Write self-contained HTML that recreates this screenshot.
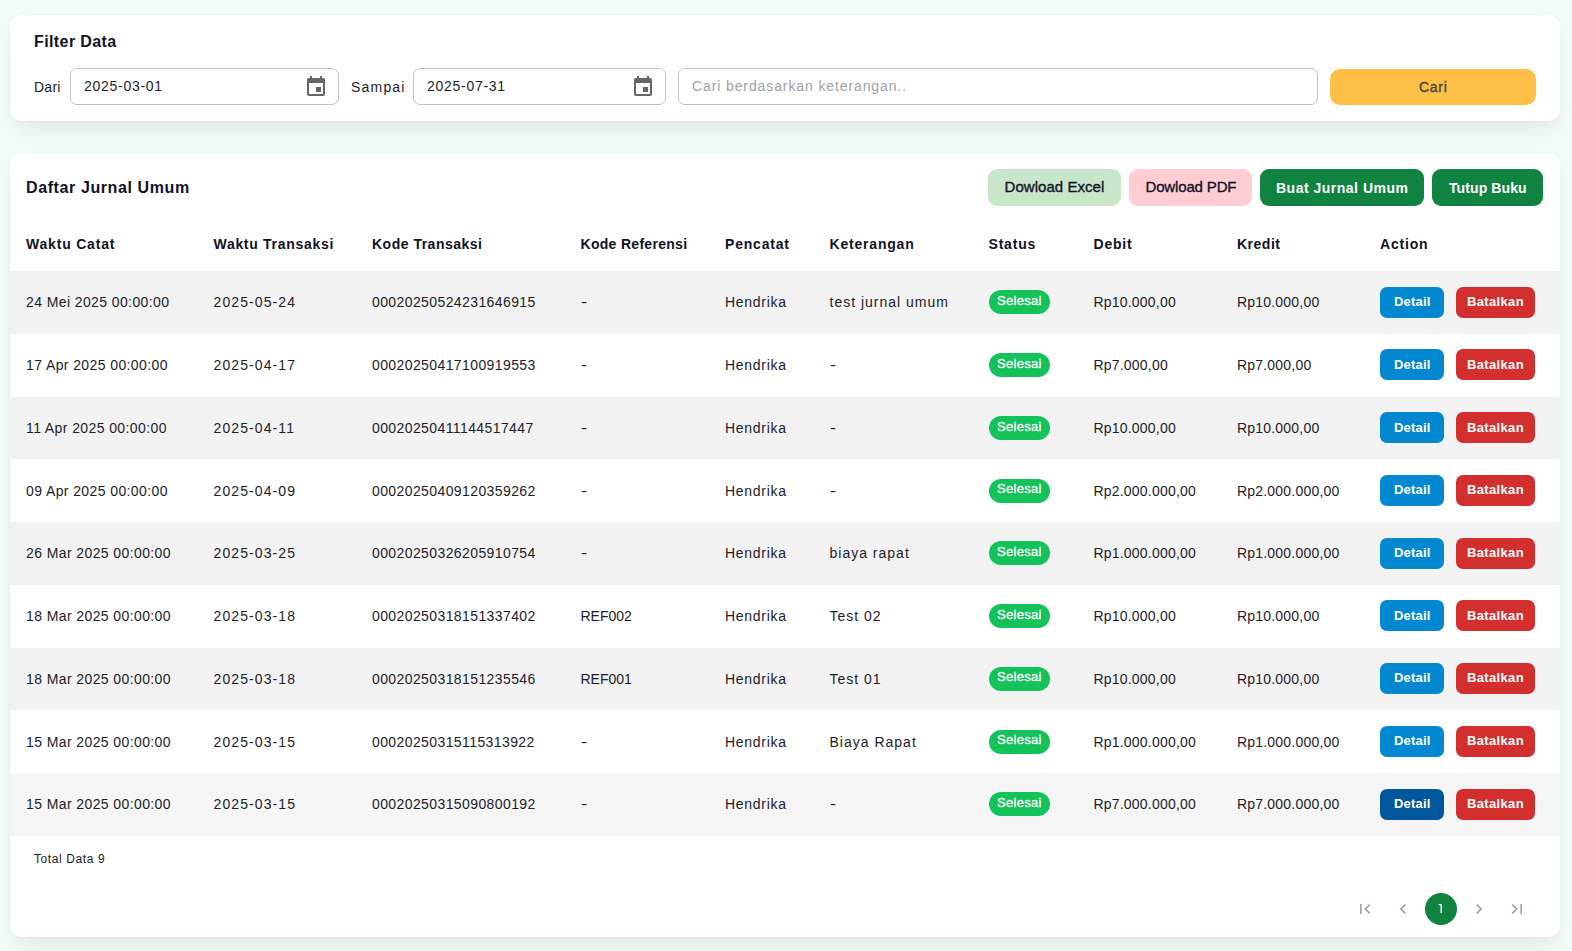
<!DOCTYPE html>
<html><head><meta charset="utf-8"><title>Jurnal Umum</title>
<style>
*{box-sizing:border-box;margin:0;padding:0}
html,body{width:1572px;height:951px;overflow:hidden}
body{font-family:"Liberation Sans", sans-serif;background:#f2fcf7;position:relative}
.card{position:absolute;left:10px;width:1550px;background:#fff;border-radius:12px;box-shadow:0 10px 24px -6px rgba(0,0,0,0.10),0 0 5px rgba(0,0,0,0.025)}
.t{position:absolute;white-space:nowrap}
.inp{position:absolute;border:1px solid #c2c2c2;border-radius:7px;background:#fff}
.btn{position:absolute;display:flex;align-items:center;justify-content:center;white-space:nowrap}
.row{position:absolute;left:10px;width:1550px}
.pg{position:absolute;top:893px;width:32px;height:32px;display:flex;align-items:center;justify-content:center}
</style></head><body>

<div class="card" style="top:15px;height:106px"></div>
<div class="t" style="left:34px;top:32.46px;font-size:16px;font-weight:700;color:#111326;letter-spacing:0.4px;line-height:20px;">Filter Data</div>
<div class="t" style="left:34px;top:77.15px;font-size:14px;font-weight:400;color:#1c1c2b;letter-spacing:0.25px;line-height:20px;">Dari</div>
<div class="inp" style="left:70px;top:68px;width:269px;height:37px"></div>
<div class="t" style="left:84px;top:75.65px;font-size:14px;font-weight:400;color:#1c1c2b;letter-spacing:0.72px;line-height:20px;">2025-03-01</div>
<div style="position:absolute;left:304px;top:75px;width:24px;height:24px"><svg width="24" height="24" viewBox="0 0 24 24"><path fill="#666" d="M17 12h-5v5h5v-5zM16 1v2H8V1H6v2H5c-1.11 0-1.99.9-1.99 2L3 19c0 1.1.89 2 2 2h14c1.1 0 2-.9 2-2V5c0-1.1-.9-2-2-2h-1V1h-2zm3 18H5V8h14v11z"/></svg></div>
<div class="t" style="left:351px;top:77.15px;font-size:14px;font-weight:400;color:#1c1c2b;letter-spacing:1.2px;line-height:20px;">Sampai</div>
<div class="inp" style="left:413px;top:68px;width:253px;height:37px"></div>
<div class="t" style="left:427px;top:75.65px;font-size:14px;font-weight:400;color:#1c1c2b;letter-spacing:0.72px;line-height:20px;">2025-07-31</div>
<div style="position:absolute;left:631px;top:75px;width:24px;height:24px"><svg width="24" height="24" viewBox="0 0 24 24"><path fill="#666" d="M17 12h-5v5h5v-5zM16 1v2H8V1H6v2H5c-1.11 0-1.99.9-1.99 2L3 19c0 1.1.89 2 2 2h14c1.1 0 2-.9 2-2V5c0-1.1-.9-2-2-2h-1V1h-2zm3 18H5V8h14v11z"/></svg></div>
<div class="inp" style="left:678px;top:68px;width:640px;height:37px"></div>
<div class="t" style="left:692px;top:76.15px;font-size:14px;font-weight:400;color:#a0a1a9;letter-spacing:0.89px;line-height:20px;">Cari berdasarkan keterangan..</div>
<div class="btn" style="left:1330px;top:69px;width:206px;height:36px;background:#ffbf47;border-radius:10px"></div>
<div class="t" style="left:1419px;top:77.15px;font-size:14px;font-weight:400;color:#3d463a;letter-spacing:0.7px;line-height:20px;-webkit-text-stroke:0.35px #3d463a">Cari</div>
<div class="card" style="top:153px;height:784px"></div>
<div class="t" style="left:26px;top:178.16px;font-size:16px;font-weight:700;color:#111326;letter-spacing:0.6px;line-height:20px;">Daftar Jurnal Umum</div>
<div class="btn" style="left:988px;top:169px;width:133px;height:37px;background:#c8e6c9;border-radius:9px"></div><div class="t" style="left:1004.5px;top:177.30px;font-size:15px;font-weight:400;color:#111326;letter-spacing:0.05px;line-height:20px;-webkit-text-stroke:0.35px #111326">Dowload Excel</div>
<div class="btn" style="left:1129px;top:169px;width:123px;height:37px;background:#ffcdd2;border-radius:9px"></div><div class="t" style="left:1145.5px;top:177.30px;font-size:15px;font-weight:400;color:#111326;letter-spacing:-0.15px;line-height:20px;-webkit-text-stroke:0.35px #111326">Dowload PDF</div>
<div class="btn" style="left:1260px;top:169px;width:164px;height:37px;background:#0f833f;border-radius:9px"></div><div class="t" style="left:1276px;top:177.65px;font-size:14px;font-weight:700;color:#ffffff;letter-spacing:0.5px;line-height:20px;">Buat Jurnal Umum</div>
<div class="btn" style="left:1432px;top:169px;width:111px;height:37px;background:#0f833f;border-radius:9px"></div><div class="t" style="left:1449px;top:177.65px;font-size:14px;font-weight:700;color:#ffffff;letter-spacing:0.1px;line-height:20px;">Tutup Buku</div>
<div class="t" style="left:26px;top:234.15px;font-size:14px;font-weight:700;color:#111326;letter-spacing:0.8px;line-height:20px;">Waktu Catat</div>
<div class="t" style="left:213.5px;top:234.15px;font-size:14px;font-weight:700;color:#111326;letter-spacing:0.7px;line-height:20px;">Waktu Transaksi</div>
<div class="t" style="left:372px;top:234.15px;font-size:14px;font-weight:700;color:#111326;letter-spacing:0.5px;line-height:20px;">Kode Transaksi</div>
<div class="t" style="left:580.5px;top:234.15px;font-size:14px;font-weight:700;color:#111326;letter-spacing:0.3px;line-height:20px;">Kode Referensi</div>
<div class="t" style="left:725px;top:234.15px;font-size:14px;font-weight:700;color:#111326;letter-spacing:0.8px;line-height:20px;">Pencatat</div>
<div class="t" style="left:829.5px;top:234.15px;font-size:14px;font-weight:700;color:#111326;letter-spacing:0.8px;line-height:20px;">Keterangan</div>
<div class="t" style="left:988.5px;top:234.15px;font-size:14px;font-weight:700;color:#111326;letter-spacing:0.8px;line-height:20px;">Status</div>
<div class="t" style="left:1093.5px;top:234.15px;font-size:14px;font-weight:700;color:#111326;letter-spacing:0.8px;line-height:20px;">Debit</div>
<div class="t" style="left:1237px;top:234.15px;font-size:14px;font-weight:700;color:#111326;letter-spacing:0.5px;line-height:20px;">Kredit</div>
<div class="t" style="left:1380px;top:234.15px;font-size:14px;font-weight:700;color:#111326;letter-spacing:0.8px;line-height:20px;">Action</div>
<div class="row" style="top:271.00px;height:62.75px;background:#f2f2f2"></div>
<div class="t" style="left:26px;top:292.00px;font-size:14px;font-weight:400;color:#1c1c2b;letter-spacing:0.4px;line-height:20px;">24 Mei 2025 00:00:00</div>
<div class="t" style="left:213.5px;top:292.00px;font-size:14px;font-weight:400;color:#1c1c2b;letter-spacing:1.1px;line-height:20px;">2025-05-24</div>
<div class="t" style="left:372px;top:292.00px;font-size:14px;font-weight:400;color:#1c1c2b;letter-spacing:0.4px;line-height:20px;">00020250524231646915</div>
<div class="t" style="left:580.5px;top:292.00px;font-size:14px;font-weight:400;color:#1c1c2b;letter-spacing:0.0px;line-height:20px;"><span style="display:inline-block;transform:scaleX(1.3);transform-origin:0 0">-</span></div>
<div class="t" style="left:725px;top:292.00px;font-size:14px;font-weight:400;color:#1c1c2b;letter-spacing:0.7px;line-height:20px;">Hendrika</div>
<div class="t" style="left:829.5px;top:292.00px;font-size:14px;font-weight:400;color:#1c1c2b;letter-spacing:1.0px;line-height:20px;">test jurnal umum</div>
<div class="btn" style="left:989px;top:290.40px;width:61px;height:24px;background:#14c25a;border-radius:12px"></div>
<div class="t" style="left:997px;top:291.00px;font-size:13px;font-weight:400;color:#ffffff;letter-spacing:0.3px;line-height:20px;-webkit-text-stroke:0.3px #fff">Selesai</div>
<div class="t" style="left:1093.5px;top:292.00px;font-size:14px;font-weight:400;color:#1c1c2b;letter-spacing:0.2px;line-height:20px;">Rp10.000,00</div>
<div class="t" style="left:1237px;top:292.00px;font-size:14px;font-weight:400;color:#1c1c2b;letter-spacing:0.2px;line-height:20px;">Rp10.000,00</div>
<div class="btn" style="left:1380px;top:286.70px;width:64px;height:31px;background:#0288d1;border-radius:7px"></div>
<div class="t" style="left:1394px;top:292.00px;font-size:13px;font-weight:700;color:#ffffff;letter-spacing:0.2px;line-height:20px;">Detail</div>
<div class="btn" style="left:1456px;top:286.70px;width:79px;height:31px;background:#d32f2f;border-radius:7px"></div>
<div class="t" style="left:1467px;top:292.00px;font-size:13px;font-weight:700;color:#ffffff;letter-spacing:0.35px;line-height:20px;">Batalkan</div>
<div class="row" style="top:333.75px;height:62.75px;background:#ffffff"></div>
<div class="t" style="left:26px;top:355.00px;font-size:14px;font-weight:400;color:#1c1c2b;letter-spacing:0.4px;line-height:20px;">17 Apr 2025 00:00:00</div>
<div class="t" style="left:213.5px;top:355.00px;font-size:14px;font-weight:400;color:#1c1c2b;letter-spacing:1.1px;line-height:20px;">2025-04-17</div>
<div class="t" style="left:372px;top:355.00px;font-size:14px;font-weight:400;color:#1c1c2b;letter-spacing:0.4px;line-height:20px;">00020250417100919553</div>
<div class="t" style="left:580.5px;top:355.00px;font-size:14px;font-weight:400;color:#1c1c2b;letter-spacing:0.0px;line-height:20px;"><span style="display:inline-block;transform:scaleX(1.3);transform-origin:0 0">-</span></div>
<div class="t" style="left:725px;top:355.00px;font-size:14px;font-weight:400;color:#1c1c2b;letter-spacing:0.7px;line-height:20px;">Hendrika</div>
<div class="t" style="left:829.5px;top:355.00px;font-size:14px;font-weight:400;color:#1c1c2b;letter-spacing:1.0px;line-height:20px;"><span style="display:inline-block;transform:scaleX(1.3);transform-origin:0 0">-</span></div>
<div class="btn" style="left:989px;top:353.15px;width:61px;height:24px;background:#14c25a;border-radius:12px"></div>
<div class="t" style="left:997px;top:354.00px;font-size:13px;font-weight:400;color:#ffffff;letter-spacing:0.3px;line-height:20px;-webkit-text-stroke:0.3px #fff">Selesai</div>
<div class="t" style="left:1093.5px;top:355.00px;font-size:14px;font-weight:400;color:#1c1c2b;letter-spacing:0.2px;line-height:20px;">Rp7.000,00</div>
<div class="t" style="left:1237px;top:355.00px;font-size:14px;font-weight:400;color:#1c1c2b;letter-spacing:0.2px;line-height:20px;">Rp7.000,00</div>
<div class="btn" style="left:1380px;top:349.45px;width:64px;height:31px;background:#0288d1;border-radius:7px"></div>
<div class="t" style="left:1394px;top:355.00px;font-size:13px;font-weight:700;color:#ffffff;letter-spacing:0.2px;line-height:20px;">Detail</div>
<div class="btn" style="left:1456px;top:349.45px;width:79px;height:31px;background:#d32f2f;border-radius:7px"></div>
<div class="t" style="left:1467px;top:355.00px;font-size:13px;font-weight:700;color:#ffffff;letter-spacing:0.35px;line-height:20px;">Batalkan</div>
<div class="row" style="top:396.50px;height:62.75px;background:#f2f2f2"></div>
<div class="t" style="left:26px;top:418.00px;font-size:14px;font-weight:400;color:#1c1c2b;letter-spacing:0.4px;line-height:20px;">11 Apr 2025 00:00:00</div>
<div class="t" style="left:213.5px;top:418.00px;font-size:14px;font-weight:400;color:#1c1c2b;letter-spacing:1.1px;line-height:20px;">2025-04-11</div>
<div class="t" style="left:372px;top:418.00px;font-size:14px;font-weight:400;color:#1c1c2b;letter-spacing:0.4px;line-height:20px;">00020250411144517447</div>
<div class="t" style="left:580.5px;top:418.00px;font-size:14px;font-weight:400;color:#1c1c2b;letter-spacing:0.0px;line-height:20px;"><span style="display:inline-block;transform:scaleX(1.3);transform-origin:0 0">-</span></div>
<div class="t" style="left:725px;top:418.00px;font-size:14px;font-weight:400;color:#1c1c2b;letter-spacing:0.7px;line-height:20px;">Hendrika</div>
<div class="t" style="left:829.5px;top:418.00px;font-size:14px;font-weight:400;color:#1c1c2b;letter-spacing:1.0px;line-height:20px;"><span style="display:inline-block;transform:scaleX(1.3);transform-origin:0 0">-</span></div>
<div class="btn" style="left:989px;top:415.90px;width:61px;height:24px;background:#14c25a;border-radius:12px"></div>
<div class="t" style="left:997px;top:417.00px;font-size:13px;font-weight:400;color:#ffffff;letter-spacing:0.3px;line-height:20px;-webkit-text-stroke:0.3px #fff">Selesai</div>
<div class="t" style="left:1093.5px;top:418.00px;font-size:14px;font-weight:400;color:#1c1c2b;letter-spacing:0.2px;line-height:20px;">Rp10.000,00</div>
<div class="t" style="left:1237px;top:418.00px;font-size:14px;font-weight:400;color:#1c1c2b;letter-spacing:0.2px;line-height:20px;">Rp10.000,00</div>
<div class="btn" style="left:1380px;top:412.20px;width:64px;height:31px;background:#0288d1;border-radius:7px"></div>
<div class="t" style="left:1394px;top:418.00px;font-size:13px;font-weight:700;color:#ffffff;letter-spacing:0.2px;line-height:20px;">Detail</div>
<div class="btn" style="left:1456px;top:412.20px;width:79px;height:31px;background:#d32f2f;border-radius:7px"></div>
<div class="t" style="left:1467px;top:418.00px;font-size:13px;font-weight:700;color:#ffffff;letter-spacing:0.35px;line-height:20px;">Batalkan</div>
<div class="row" style="top:459.25px;height:62.75px;background:#ffffff"></div>
<div class="t" style="left:26px;top:481.00px;font-size:14px;font-weight:400;color:#1c1c2b;letter-spacing:0.4px;line-height:20px;">09 Apr 2025 00:00:00</div>
<div class="t" style="left:213.5px;top:481.00px;font-size:14px;font-weight:400;color:#1c1c2b;letter-spacing:1.1px;line-height:20px;">2025-04-09</div>
<div class="t" style="left:372px;top:481.00px;font-size:14px;font-weight:400;color:#1c1c2b;letter-spacing:0.4px;line-height:20px;">00020250409120359262</div>
<div class="t" style="left:580.5px;top:481.00px;font-size:14px;font-weight:400;color:#1c1c2b;letter-spacing:0.0px;line-height:20px;"><span style="display:inline-block;transform:scaleX(1.3);transform-origin:0 0">-</span></div>
<div class="t" style="left:725px;top:481.00px;font-size:14px;font-weight:400;color:#1c1c2b;letter-spacing:0.7px;line-height:20px;">Hendrika</div>
<div class="t" style="left:829.5px;top:481.00px;font-size:14px;font-weight:400;color:#1c1c2b;letter-spacing:1.0px;line-height:20px;"><span style="display:inline-block;transform:scaleX(1.3);transform-origin:0 0">-</span></div>
<div class="btn" style="left:989px;top:478.65px;width:61px;height:24px;background:#14c25a;border-radius:12px"></div>
<div class="t" style="left:997px;top:479.00px;font-size:13px;font-weight:400;color:#ffffff;letter-spacing:0.3px;line-height:20px;-webkit-text-stroke:0.3px #fff">Selesai</div>
<div class="t" style="left:1093.5px;top:481.00px;font-size:14px;font-weight:400;color:#1c1c2b;letter-spacing:0.2px;line-height:20px;">Rp2.000.000,00</div>
<div class="t" style="left:1237px;top:481.00px;font-size:14px;font-weight:400;color:#1c1c2b;letter-spacing:0.2px;line-height:20px;">Rp2.000.000,00</div>
<div class="btn" style="left:1380px;top:474.95px;width:64px;height:31px;background:#0288d1;border-radius:7px"></div>
<div class="t" style="left:1394px;top:480.00px;font-size:13px;font-weight:700;color:#ffffff;letter-spacing:0.2px;line-height:20px;">Detail</div>
<div class="btn" style="left:1456px;top:474.95px;width:79px;height:31px;background:#d32f2f;border-radius:7px"></div>
<div class="t" style="left:1467px;top:480.00px;font-size:13px;font-weight:700;color:#ffffff;letter-spacing:0.35px;line-height:20px;">Batalkan</div>
<div class="row" style="top:522.00px;height:62.75px;background:#f2f2f2"></div>
<div class="t" style="left:26px;top:543.00px;font-size:14px;font-weight:400;color:#1c1c2b;letter-spacing:0.4px;line-height:20px;">26 Mar 2025 00:00:00</div>
<div class="t" style="left:213.5px;top:543.00px;font-size:14px;font-weight:400;color:#1c1c2b;letter-spacing:1.1px;line-height:20px;">2025-03-25</div>
<div class="t" style="left:372px;top:543.00px;font-size:14px;font-weight:400;color:#1c1c2b;letter-spacing:0.4px;line-height:20px;">00020250326205910754</div>
<div class="t" style="left:580.5px;top:543.00px;font-size:14px;font-weight:400;color:#1c1c2b;letter-spacing:0.0px;line-height:20px;"><span style="display:inline-block;transform:scaleX(1.3);transform-origin:0 0">-</span></div>
<div class="t" style="left:725px;top:543.00px;font-size:14px;font-weight:400;color:#1c1c2b;letter-spacing:0.7px;line-height:20px;">Hendrika</div>
<div class="t" style="left:829.5px;top:543.00px;font-size:14px;font-weight:400;color:#1c1c2b;letter-spacing:1.0px;line-height:20px;">biaya rapat</div>
<div class="btn" style="left:989px;top:541.40px;width:61px;height:24px;background:#14c25a;border-radius:12px"></div>
<div class="t" style="left:997px;top:542.00px;font-size:13px;font-weight:400;color:#ffffff;letter-spacing:0.3px;line-height:20px;-webkit-text-stroke:0.3px #fff">Selesai</div>
<div class="t" style="left:1093.5px;top:543.00px;font-size:14px;font-weight:400;color:#1c1c2b;letter-spacing:0.2px;line-height:20px;">Rp1.000.000,00</div>
<div class="t" style="left:1237px;top:543.00px;font-size:14px;font-weight:400;color:#1c1c2b;letter-spacing:0.2px;line-height:20px;">Rp1.000.000,00</div>
<div class="btn" style="left:1380px;top:537.70px;width:64px;height:31px;background:#0288d1;border-radius:7px"></div>
<div class="t" style="left:1394px;top:543.00px;font-size:13px;font-weight:700;color:#ffffff;letter-spacing:0.2px;line-height:20px;">Detail</div>
<div class="btn" style="left:1456px;top:537.70px;width:79px;height:31px;background:#d32f2f;border-radius:7px"></div>
<div class="t" style="left:1467px;top:543.00px;font-size:13px;font-weight:700;color:#ffffff;letter-spacing:0.35px;line-height:20px;">Batalkan</div>
<div class="row" style="top:584.75px;height:62.75px;background:#ffffff"></div>
<div class="t" style="left:26px;top:606.00px;font-size:14px;font-weight:400;color:#1c1c2b;letter-spacing:0.4px;line-height:20px;">18 Mar 2025 00:00:00</div>
<div class="t" style="left:213.5px;top:606.00px;font-size:14px;font-weight:400;color:#1c1c2b;letter-spacing:1.1px;line-height:20px;">2025-03-18</div>
<div class="t" style="left:372px;top:606.00px;font-size:14px;font-weight:400;color:#1c1c2b;letter-spacing:0.4px;line-height:20px;">00020250318151337402</div>
<div class="t" style="left:580.5px;top:606.00px;font-size:14px;font-weight:400;color:#1c1c2b;letter-spacing:0.0px;line-height:20px;">REF002</div>
<div class="t" style="left:725px;top:606.00px;font-size:14px;font-weight:400;color:#1c1c2b;letter-spacing:0.7px;line-height:20px;">Hendrika</div>
<div class="t" style="left:829.5px;top:606.00px;font-size:14px;font-weight:400;color:#1c1c2b;letter-spacing:1.0px;line-height:20px;">Test 02</div>
<div class="btn" style="left:989px;top:604.15px;width:61px;height:24px;background:#14c25a;border-radius:12px"></div>
<div class="t" style="left:997px;top:605.00px;font-size:13px;font-weight:400;color:#ffffff;letter-spacing:0.3px;line-height:20px;-webkit-text-stroke:0.3px #fff">Selesai</div>
<div class="t" style="left:1093.5px;top:606.00px;font-size:14px;font-weight:400;color:#1c1c2b;letter-spacing:0.2px;line-height:20px;">Rp10.000,00</div>
<div class="t" style="left:1237px;top:606.00px;font-size:14px;font-weight:400;color:#1c1c2b;letter-spacing:0.2px;line-height:20px;">Rp10.000,00</div>
<div class="btn" style="left:1380px;top:600.45px;width:64px;height:31px;background:#0288d1;border-radius:7px"></div>
<div class="t" style="left:1394px;top:606.00px;font-size:13px;font-weight:700;color:#ffffff;letter-spacing:0.2px;line-height:20px;">Detail</div>
<div class="btn" style="left:1456px;top:600.45px;width:79px;height:31px;background:#d32f2f;border-radius:7px"></div>
<div class="t" style="left:1467px;top:606.00px;font-size:13px;font-weight:700;color:#ffffff;letter-spacing:0.35px;line-height:20px;">Batalkan</div>
<div class="row" style="top:647.50px;height:62.75px;background:#f2f2f2"></div>
<div class="t" style="left:26px;top:669.00px;font-size:14px;font-weight:400;color:#1c1c2b;letter-spacing:0.4px;line-height:20px;">18 Mar 2025 00:00:00</div>
<div class="t" style="left:213.5px;top:669.00px;font-size:14px;font-weight:400;color:#1c1c2b;letter-spacing:1.1px;line-height:20px;">2025-03-18</div>
<div class="t" style="left:372px;top:669.00px;font-size:14px;font-weight:400;color:#1c1c2b;letter-spacing:0.4px;line-height:20px;">00020250318151235546</div>
<div class="t" style="left:580.5px;top:669.00px;font-size:14px;font-weight:400;color:#1c1c2b;letter-spacing:0.0px;line-height:20px;">REF001</div>
<div class="t" style="left:725px;top:669.00px;font-size:14px;font-weight:400;color:#1c1c2b;letter-spacing:0.7px;line-height:20px;">Hendrika</div>
<div class="t" style="left:829.5px;top:669.00px;font-size:14px;font-weight:400;color:#1c1c2b;letter-spacing:1.0px;line-height:20px;">Test 01</div>
<div class="btn" style="left:989px;top:666.90px;width:61px;height:24px;background:#14c25a;border-radius:12px"></div>
<div class="t" style="left:997px;top:667.00px;font-size:13px;font-weight:400;color:#ffffff;letter-spacing:0.3px;line-height:20px;-webkit-text-stroke:0.3px #fff">Selesai</div>
<div class="t" style="left:1093.5px;top:669.00px;font-size:14px;font-weight:400;color:#1c1c2b;letter-spacing:0.2px;line-height:20px;">Rp10.000,00</div>
<div class="t" style="left:1237px;top:669.00px;font-size:14px;font-weight:400;color:#1c1c2b;letter-spacing:0.2px;line-height:20px;">Rp10.000,00</div>
<div class="btn" style="left:1380px;top:663.20px;width:64px;height:31px;background:#0288d1;border-radius:7px"></div>
<div class="t" style="left:1394px;top:668.00px;font-size:13px;font-weight:700;color:#ffffff;letter-spacing:0.2px;line-height:20px;">Detail</div>
<div class="btn" style="left:1456px;top:663.20px;width:79px;height:31px;background:#d32f2f;border-radius:7px"></div>
<div class="t" style="left:1467px;top:668.00px;font-size:13px;font-weight:700;color:#ffffff;letter-spacing:0.35px;line-height:20px;">Batalkan</div>
<div class="row" style="top:710.25px;height:62.75px;background:#ffffff"></div>
<div class="t" style="left:26px;top:732.00px;font-size:14px;font-weight:400;color:#1c1c2b;letter-spacing:0.4px;line-height:20px;">15 Mar 2025 00:00:00</div>
<div class="t" style="left:213.5px;top:732.00px;font-size:14px;font-weight:400;color:#1c1c2b;letter-spacing:1.1px;line-height:20px;">2025-03-15</div>
<div class="t" style="left:372px;top:732.00px;font-size:14px;font-weight:400;color:#1c1c2b;letter-spacing:0.4px;line-height:20px;">00020250315115313922</div>
<div class="t" style="left:580.5px;top:732.00px;font-size:14px;font-weight:400;color:#1c1c2b;letter-spacing:0.0px;line-height:20px;"><span style="display:inline-block;transform:scaleX(1.3);transform-origin:0 0">-</span></div>
<div class="t" style="left:725px;top:732.00px;font-size:14px;font-weight:400;color:#1c1c2b;letter-spacing:0.7px;line-height:20px;">Hendrika</div>
<div class="t" style="left:829.5px;top:732.00px;font-size:14px;font-weight:400;color:#1c1c2b;letter-spacing:1.0px;line-height:20px;">Biaya Rapat</div>
<div class="btn" style="left:989px;top:729.65px;width:61px;height:24px;background:#14c25a;border-radius:12px"></div>
<div class="t" style="left:997px;top:730.00px;font-size:13px;font-weight:400;color:#ffffff;letter-spacing:0.3px;line-height:20px;-webkit-text-stroke:0.3px #fff">Selesai</div>
<div class="t" style="left:1093.5px;top:732.00px;font-size:14px;font-weight:400;color:#1c1c2b;letter-spacing:0.2px;line-height:20px;">Rp1.000.000,00</div>
<div class="t" style="left:1237px;top:732.00px;font-size:14px;font-weight:400;color:#1c1c2b;letter-spacing:0.2px;line-height:20px;">Rp1.000.000,00</div>
<div class="btn" style="left:1380px;top:725.95px;width:64px;height:31px;background:#0288d1;border-radius:7px"></div>
<div class="t" style="left:1394px;top:731.00px;font-size:13px;font-weight:700;color:#ffffff;letter-spacing:0.2px;line-height:20px;">Detail</div>
<div class="btn" style="left:1456px;top:725.95px;width:79px;height:31px;background:#d32f2f;border-radius:7px"></div>
<div class="t" style="left:1467px;top:731.00px;font-size:13px;font-weight:700;color:#ffffff;letter-spacing:0.35px;line-height:20px;">Batalkan</div>
<div class="row" style="top:773.00px;height:62.75px;background:#f5f5f5"></div>
<div class="t" style="left:26px;top:794.00px;font-size:14px;font-weight:400;color:#1c1c2b;letter-spacing:0.4px;line-height:20px;">15 Mar 2025 00:00:00</div>
<div class="t" style="left:213.5px;top:794.00px;font-size:14px;font-weight:400;color:#1c1c2b;letter-spacing:1.1px;line-height:20px;">2025-03-15</div>
<div class="t" style="left:372px;top:794.00px;font-size:14px;font-weight:400;color:#1c1c2b;letter-spacing:0.4px;line-height:20px;">00020250315090800192</div>
<div class="t" style="left:580.5px;top:794.00px;font-size:14px;font-weight:400;color:#1c1c2b;letter-spacing:0.0px;line-height:20px;"><span style="display:inline-block;transform:scaleX(1.3);transform-origin:0 0">-</span></div>
<div class="t" style="left:725px;top:794.00px;font-size:14px;font-weight:400;color:#1c1c2b;letter-spacing:0.7px;line-height:20px;">Hendrika</div>
<div class="t" style="left:829.5px;top:794.00px;font-size:14px;font-weight:400;color:#1c1c2b;letter-spacing:1.0px;line-height:20px;"><span style="display:inline-block;transform:scaleX(1.3);transform-origin:0 0">-</span></div>
<div class="btn" style="left:989px;top:792.40px;width:61px;height:24px;background:#14c25a;border-radius:12px"></div>
<div class="t" style="left:997px;top:793.00px;font-size:13px;font-weight:400;color:#ffffff;letter-spacing:0.3px;line-height:20px;-webkit-text-stroke:0.3px #fff">Selesai</div>
<div class="t" style="left:1093.5px;top:794.00px;font-size:14px;font-weight:400;color:#1c1c2b;letter-spacing:0.2px;line-height:20px;">Rp7.000.000,00</div>
<div class="t" style="left:1237px;top:794.00px;font-size:14px;font-weight:400;color:#1c1c2b;letter-spacing:0.2px;line-height:20px;">Rp7.000.000,00</div>
<div class="btn" style="left:1380px;top:788.70px;width:64px;height:31px;background:#01579b;border-radius:7px"></div>
<div class="t" style="left:1394px;top:794.00px;font-size:13px;font-weight:700;color:#ffffff;letter-spacing:0.2px;line-height:20px;">Detail</div>
<div class="btn" style="left:1456px;top:788.70px;width:79px;height:31px;background:#d32f2f;border-radius:7px"></div>
<div class="t" style="left:1467px;top:794.00px;font-size:13px;font-weight:700;color:#ffffff;letter-spacing:0.35px;line-height:20px;">Batalkan</div>
<div class="t" style="left:34px;top:848.84px;font-size:12px;font-weight:400;color:#1c1c2b;letter-spacing:0.6px;line-height:20px;">Total Data 9</div>
<div class="pg" style="left:1349px"><svg width="20" height="20" viewBox="0 0 24 24"><path fill="#9ca3af" d="M18.41 16.59L13.82 12l4.59-4.59L17 6l-6 6 6 6zM6 6h2v12H6z"/></svg></div>
<div class="pg" style="left:1387px"><svg width="20" height="20" viewBox="0 0 24 24"><path fill="#9ca3af" d="M15.41 7.41L14 6l-6 6 6 6 1.41-1.41L10.83 12z"/></svg></div>
<div class="pg" style="left:1463px"><svg width="20" height="20" viewBox="0 0 24 24"><path fill="#9ca3af" d="M10 6L8.59 7.41 13.17 12l-4.58 4.59L10 18l6-6z"/></svg></div>
<div class="pg" style="left:1501px"><svg width="20" height="20" viewBox="0 0 24 24"><path fill="#9ca3af" d="M5.59 7.41L10.18 12l-4.59 4.59L7 18l6-6-6-6zM16 6h2v12h-2z"/></svg></div>
<div class="pg" style="left:1425px;background:#0f833f;border-radius:50%"></div>
<svg style="position:absolute;left:1436px;top:903px" width="10" height="12" viewBox="0 0 10 12"><path fill="#fff" d="M2.6 1h3.3v9H4.5V2.3H2.6z"/></svg>
</body></html>
